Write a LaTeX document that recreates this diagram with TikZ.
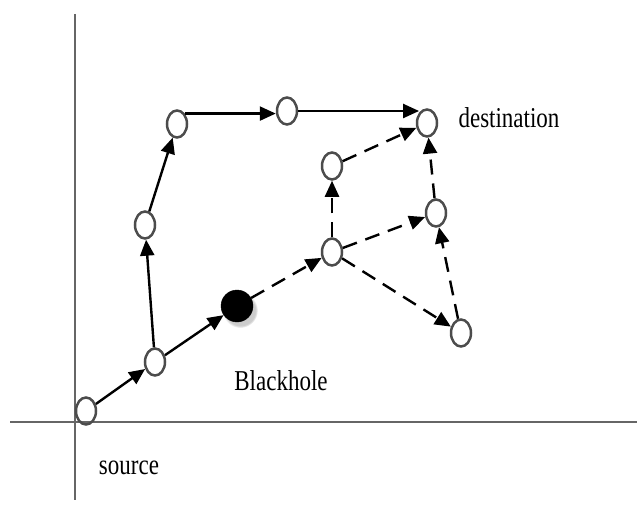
\documentclass[tikz,border=0pt]{standalone}
\usepackage{fontspec}
\setmainfont{Liberation Serif}
\usetikzlibrary{arrows.meta,shapes.geometric,shadows}

\begin{document}
\begin{tikzpicture}[x=1pt,y=-1pt,
   host/.style={draw=black!70,line width=2.5pt,ellipse,inner sep=0pt,
                minimum width=20pt,minimum height=27pt},
   link/.style={line width=2.4pt,-{Triangle[length=16pt,width=14pt]}},
   dlink/.style={link,dash pattern=on 15pt off 9pt},
   lbl/.style={font=\fontsize{23}{23}\selectfont,yscale=1.25}]
   \useasboundingbox (0,0) rectangle (637,508);

   % axes
   \draw[black!60,line width=2.5pt] (75,14) -- (75,500);
   \draw[black!60,line width=2.5pt] (10,422) -- (637,422);

   % nodes
   \node[host] (src) at (86,411) {};
   \node[host] (n1) at (155,362) {};
   \node[host] (n2) at (145,225) {};
   \node[host] (n3) at (177,124) {};
   \node[host] (n4) at (287,111) {};
   \node[host] (dest) at (427,123) {};
   \node[circle,fill=black,draw=black,minimum size=32pt,inner sep=0pt,
         circular drop shadow={shadow xshift=3pt,shadow yshift=-4pt,opacity=.4}]
         (bh) at (237,306) {};
   \node[host] (m) at (332,252) {};
   \node[host] (u) at (332,166) {};
   \node[host] (r) at (436,213) {};
   \node[host] (low) at (461,333) {};

   \node[lbl] (ldest) at (509,118) {destination};
   \node[lbl] (lbh) at (281,381) {Blackhole};
   \node[lbl] (lsrc) at (129,468) {source};
   %%%%%%%%%%
   % route over the top
   \draw[link] (src) -- (n1);
   \draw[link] (n1) -- (n2);
   \draw[link] (n2) -- (n3);
   \draw[link] (n3.north east) -- (n3.north east -| n4.west);
   \draw[link] (n4.east) -- (n4.east -| dest.north west);
   %%%%%%%%%%
   % route through the blackhole
   \draw[link] (n1) -- (bh);
   \draw[dlink] (bh) -- (m);
   \draw[dlink] (m) -- (u);
   \draw[dlink] (m) -- (r);
   \draw[dlink] (m) -- (low);
   \draw[dlink] (u) -- (dest);
   \draw[dlink] (r) -- (dest);
   \draw[dlink] (low) -- (r);
\end{tikzpicture}
\end{document}
